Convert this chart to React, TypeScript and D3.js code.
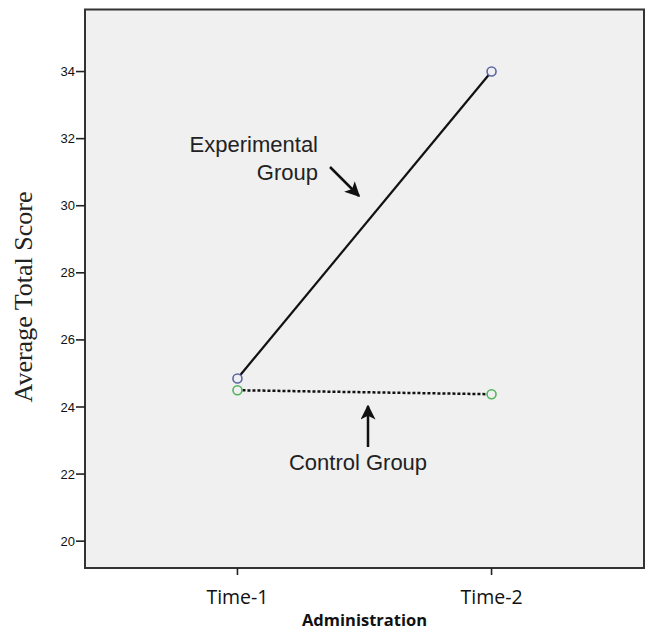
import React from "react";
import * as d3 from "d3";

const times = ["Time-1", "Time-2"];
const experimental = [24.85, 34.0];
const control = [24.5, 24.38];
const yTicks = [20, 22, 24, 26, 28, 30, 32, 34];

const W = 647, H = 630;
const frame = { left: 85, right: 644, top: 9.5, bottom: 568 };

export default function App() {
  const x = d3.scalePoint<string>().domain(times).range([frame.left, frame.right]).padding(0.6);
  const y = d3.scaleLinear().domain([19.2, 35.85]).range([frame.bottom, frame.top]);

  const line = d3
    .line<number>()
    .x((_, i) => x(times[i]) as number)
    .y((d) => y(d));

  return (
    <svg width={W} height={H} style={{ position: "absolute", left: 0, top: 0, background: "#fff" }}>
      <defs>
        <marker id="arr" viewBox="0 0 10 10" refX="9" refY="5" markerWidth="6" markerHeight="6" orient="auto">
          <path d="M0,0 L10,5 L0,10 L2.5,5 Z" fill="#111" />
        </marker>
      </defs>
      <rect x={frame.left} y={frame.top} width={frame.right - frame.left} height={frame.bottom - frame.top}
        fill="#f0f0f0" stroke="#333" strokeWidth={2} />

      {/* y axis */}
      {yTicks.map((t) => (
        <g key={t}>
          <line x1={frame.left - 9} x2={frame.left} y1={y(t)} y2={y(t)} stroke="#222" strokeWidth={1.6} />
          <text x={frame.left - 10} y={y(t)} dy="0.35em" textAnchor="end" fontFamily="Liberation Sans, Arial"
            fontSize={13} fill="#111">{t}</text>
        </g>
      ))}
      <text transform={`translate(32, 297) rotate(-90)`} textAnchor="middle" fontFamily="Liberation Serif, Times New Roman"
        fontSize={26} fill="#222">Average Total Score</text>

      {/* x axis */}
      {times.map((t) => (
        <g key={t}>
          <line x1={x(t)} x2={x(t)} y1={frame.bottom} y2={frame.bottom + 7} stroke="#222" strokeWidth={1.6} />
          <text x={x(t)} y={604} textAnchor="middle" fontFamily="Open Sans" fontSize={19.5} fill="#111">{t}</text>
        </g>
      ))}
      <text x={(x(times[0])! + x(times[1])!) / 2} y={626} textAnchor="middle" fontFamily="Open Sans"
        fontWeight="bold" fontSize={16.5} fill="#111">Administration</text>

      {/* series */}
      <path d={line(experimental) ?? ""} fill="none" stroke="#111" strokeWidth={2.2} />
      <path d={line(control) ?? ""} fill="none" stroke="#111" strokeWidth={2.5} strokeDasharray="3,2" />
      {experimental.map((v, i) => (
        <circle key={"e" + i} cx={x(times[i])} cy={y(v)} r={4.5} fill="#f0f0f0" stroke="#5b67a6" strokeWidth={1.6} />
      ))}
      {control.map((v, i) => (
        <circle key={"c" + i} cx={x(times[i])} cy={y(v)} r={4.5} fill="#f0f0f0" stroke="#52b55a" strokeWidth={1.6} />
      ))}

      {/* annotations */}
      <text x={318} y={152} textAnchor="end" fontFamily="Liberation Sans, Arial" fontSize={22} fill="#222">Experimental</text>
      <text x={318} y={180} textAnchor="end" fontFamily="Liberation Sans, Arial" fontSize={22} fill="#222">Group</text>
      <line x1={330} y1={167} x2={359} y2={196} stroke="#111" strokeWidth={2.5} markerEnd="url(#arr)" />

      <line x1={368} y1={447} x2={368} y2={406} stroke="#111" strokeWidth={2.5} markerEnd="url(#arr)" />
      <text x={358} y={470} textAnchor="middle" fontFamily="Liberation Sans, Arial" fontSize={22} fill="#222">Control Group</text>
    </svg>
  );
}
